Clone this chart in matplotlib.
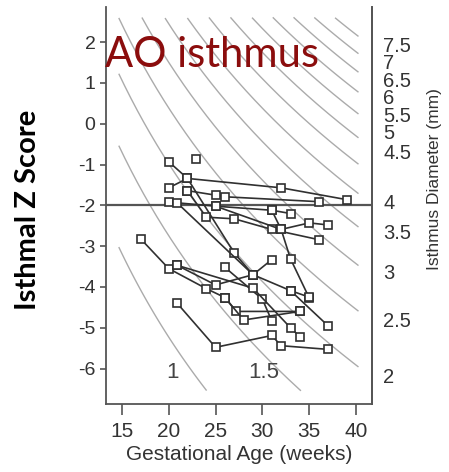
import numpy as np
import matplotlib
matplotlib.use('Agg')
import matplotlib.pyplot as plt

plt.rcParams['font.family'] = ['Liberation Sans', 'DejaVu Sans']
plt.rcParams['axes.unicode_minus'] = False

# serial scans (gestational age in weeks, isthmal z score), one list per fetus
series_ga = [
    [20.0, 22.0, 32.0, 39.0],
    [20.0, 22.0, 27.0, 29.0],
    [22.9],
    [22.0, 25.0, 26.0, 36.0],
    [20.0, 25.0, 31.0, 33.0],
    [20.9, 29.0],
    [22.0, 24.0, 27.0, 31.0, 36.0],
    [31.0, 32.0, 33.0, 35.0],
    [25.0, 32.0, 35.0, 37.0],
    [17.0, 20.0, 24.0, 26.0, 27.2, 34.0],
    [20.9, 25.0, 29.0, 31.0],
    [26.0, 30.0, 31.0],
    [20.9, 29.0, 33.0, 34.0],
    [26.0, 28.0, 34.0],
    [29.0, 33.0, 37.0],
    [33.0, 35.0],
    [20.9, 25.0, 31.0, 32.0, 37.0],
]
series_z = [
    [-0.93, -1.34, -1.57, -1.86],
    [-1.57, -1.34, -3.17, -3.70],
    [-0.86],
    [-1.64, -1.75, -1.79, -1.91],
    [-1.92, -2.02, -2.12, -2.20],
    [-1.94, -3.70],
    [-1.64, -2.29, -2.33, -2.59, -2.84],
    [-2.12, -2.59, -3.31, -4.27],
    [-2.02, -2.59, -2.43, -2.48],
    [-2.82, -3.55, -4.04, -4.26, -4.60, -4.60],
    [-3.47, -3.95, -3.70, -3.33],
    [-3.52, -4.30, -4.83],
    [-3.47, -4.03, -5.00, -5.22],
    [-4.26, -4.81, -4.60],
    [-3.70, -4.09, -4.95],
    [-4.09, -4.25],
    [-4.40, -5.48, -5.19, -5.44, -5.53],
]

# reference isolines of isthmus diameter (mm): z = a*ln(d) - b*ln(GA) + c
iso_diam = [1, 1.5, 2, 2.5, 3, 3.5, 4, 4.5, 5, 5.5, 6, 6.5, 7, 7.5]
iso_a, iso_b, iso_c = 6.13, 7.12, 16.10

# right axis (diameter) labels and where they sit on the z scale
diam_labels = ['7.5', '7', '6.5', '6', '5.5', '5', '4.5', '4', '3.5', '3', '2.5', '2']
diam_z = [1.95, 1.53, 1.09, 0.67, 0.23, -0.19, -0.68, -1.9, -2.64, -3.62, -4.8, -6.16]

fig = plt.figure(figsize=(4.49, 4.72), dpi=100)
ax = fig.add_axes([0.236, 0.144, 0.5925, 0.841])

ga = np.linspace(14.7, 40.2, 300)
for d in iso_diam:
    z = iso_a * np.log(d) - iso_b * np.log(ga) + iso_c
    ok = (z < 2.6) & (z > -6.55)
    ax.plot(ga[ok], z[ok], color='#ababab', lw=1.0, zorder=1)

ax.text(20.4, -6.1, '1', fontsize=16, color='#444444', ha='center', va='center')
ax.text(30.1, -6.1, '1.5', fontsize=16, color='#444444', ha='center', va='center')

ax.axhline(-2, color='#555555', lw=1.6, zorder=2)

for gx, zy in zip(series_ga, series_z):
    ax.plot(gx, zy, color='#303030', lw=1.2, marker='s', ms=5.5, mfc='white',
            mec='#303030', mew=1.2, zorder=3)

ax.set_xlim(13.3, 41.7)
ax.set_ylim(-6.87, 2.86)
ax.set_xticks([15, 20, 25, 30, 35, 40])
ax.set_yticks([2, 1, 0, -1, -2, -3, -4, -5, -6])
ax.tick_params(axis='x', direction='out', length=8, width=1.2, colors='#555555',
               labelsize=15, labelcolor='#333333', pad=5)
ax.tick_params(axis='y', direction='out', length=4.5, width=1.2, colors='#555555',
               labelsize=14, labelcolor='#333333', pad=3)
ax.spines['top'].set_visible(False)
for s in ['left', 'bottom', 'right']:
    ax.spines[s].set_color('#555555')
    ax.spines[s].set_linewidth(1.3)

ax.set_xlabel('Gestational Age (weeks)', fontsize=15, color='#333333', labelpad=3)

ax2 = ax.twinx()
ax2.set_ylim(ax.get_ylim())
ax2.set_yticks(diam_z)
ax2.set_yticklabels(diam_labels)
ax2.tick_params(axis='y', length=0, labelsize=14.5, labelcolor='#333333', pad=8)
for s in ['top', 'left', 'bottom']:
    ax2.spines[s].set_visible(False)
ax2.spines['right'].set_color('#555555')
ax2.spines['right'].set_linewidth(1.3)

fig.text(28 / 449, 1 - 210 / 472, 'Isthmal Z Score', fontsize=21, fontweight='bold',
         color='black', family=['Lato', 'DejaVu Sans'], rotation=90,
         ha='center', va='center')
fig.text(435 / 449, 1 - 179 / 472, 'Isthmus Diameter (mm)', fontsize=12.5,
         color='#333333', rotation=90, ha='center', va='center')

ax.text(13.22, 1.39, 'AO isthmus', fontsize=30, color='#8b0d0d',
        family=['Lato', 'DejaVu Sans'], ha='left', va='baseline', zorder=5)

fig.savefig('out.png', dpi=100)
